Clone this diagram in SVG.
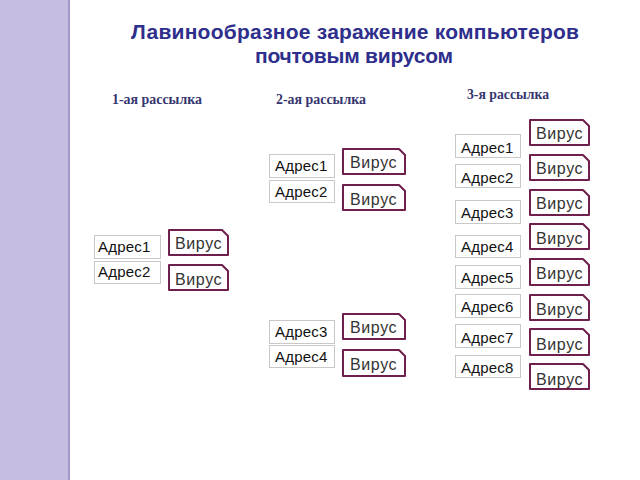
<svg xmlns="http://www.w3.org/2000/svg" width="640" height="480" viewBox="0 0 640 480">
<style>
.addr rect{fill:#fff;stroke:#c8c8c8;stroke-width:1}
.addr text{font-family:"Liberation Sans",Arial,sans-serif;font-size:15px;letter-spacing:0.2px;fill:#111}
.vir path{fill:#fff;stroke:#6e1f4b;stroke-width:2;stroke-linejoin:round}
.vir text{font-family:"Liberation Sans",Arial,sans-serif;font-size:16px;letter-spacing:0.6px;fill:#333}
.title{font-family:"Liberation Sans",Arial,sans-serif;font-size:21px;font-weight:bold;fill:#2e2e8c;text-anchor:middle}
.sub{font-family:"Liberation Serif","Times New Roman",serif;font-size:15px;font-weight:bold;fill:#36366f}
</style>
<rect x="0" y="0" width="640" height="480" fill="#fff"/>
<rect x="0" y="0" width="70" height="480" fill="#c7bde0"/>
<rect x="68" y="0" width="2" height="480" fill="#a698c8"/>
<g id="title">
<text class="title" x="355" y="39" textLength="448" lengthAdjust="spacing">Лавинообразное заражение компьютеров</text>
<text class="title" x="354" y="63" textLength="198" lengthAdjust="spacing">почтовым вирусом</text>
</g>
<g id="headers">
<text class="sub" x="112" y="104" textLength="90" lengthAdjust="spacingAndGlyphs">1-ая рассылка</text>
<text class="sub" x="276" y="104" textLength="90" lengthAdjust="spacingAndGlyphs">2-ая рассылка</text>
<text class="sub" x="467" y="99" textLength="82" lengthAdjust="spacingAndGlyphs">3-я рассылка</text>
</g>
<g id="connectors"></g>
<!-- level 1 -->
<g id="l1-a1" class="addr"><rect x="94.5" y="235.5" width="66" height="23"/><text x="98" y="252">Адрес1</text></g>
<g id="l1-a2" class="addr"><rect x="94.5" y="261.5" width="66" height="22"/><text x="98" y="277">Адрес2</text></g>
<g id="l1-v1" class="vir"><path d="M169,230 H222 L228,236 V255 H169 Z"/><text x="175" y="249">Вирус</text></g>
<g id="l1-v2" class="vir"><path d="M169,265 H222 L228,271 V290 H169 Z"/><text x="175" y="285">Вирус</text></g>
<!-- level 2 -->
<g id="l2-a1" class="addr"><rect x="269.5" y="154.5" width="65" height="23"/><text x="275" y="171">Адрес1</text></g>
<g id="l2-a2" class="addr"><rect x="269.5" y="180.5" width="65" height="22"/><text x="275" y="197">Адрес2</text></g>
<g id="l2-a3" class="addr"><rect x="269.5" y="320.5" width="65" height="23"/><text x="275" y="337">Адрес3</text></g>
<g id="l2-a4" class="addr"><rect x="269.5" y="345.5" width="65" height="22"/><text x="275" y="362">Адрес4</text></g>
<g id="l2-v1" class="vir"><path d="M343,149 H399 L405,155 V174 H343 Z"/><text x="350" y="168">Вирус</text></g>
<g id="l2-v2" class="vir"><path d="M343,185 H399 L405,191 V210 H343 Z"/><text x="350" y="205">Вирус</text></g>
<g id="l2-v3" class="vir"><path d="M343,314 H399 L405,320 V339 H343 Z"/><text x="350" y="333">Вирус</text></g>
<g id="l2-v4" class="vir"><path d="M343,350 H399 L405,356 V376 H343 Z"/><text x="350" y="370">Вирус</text></g>
<!-- level 3 -->
<g id="l3-a1" class="addr"><rect x="455.5" y="134.5" width="65" height="23"/><text x="461" y="153">Адрес1</text></g>
<g id="l3-a2" class="addr"><rect x="455.5" y="164.5" width="65" height="23"/><text x="461" y="183">Адрес2</text></g>
<g id="l3-a3" class="addr"><rect x="455.5" y="200.5" width="65" height="23"/><text x="461" y="218">Адрес3</text></g>
<g id="l3-a4" class="addr"><rect x="455.5" y="235.5" width="65" height="22"/><text x="461" y="252">Адрес4</text></g>
<g id="l3-a5" class="addr"><rect x="455.5" y="265.5" width="65" height="23"/><text x="461" y="283">Адрес5</text></g>
<g id="l3-a6" class="addr"><rect x="455.5" y="294.5" width="65" height="23"/><text x="461" y="312">Адрес6</text></g>
<g id="l3-a7" class="addr"><rect x="455.5" y="324.5" width="65" height="23"/><text x="461" y="343">Адрес7</text></g>
<g id="l3-a8" class="addr"><rect x="455.5" y="355.5" width="65" height="22"/><text x="461" y="373">Адрес8</text></g>
<g id="l3-v1" class="vir"><path d="M530,120 H583 L589,126 V145 H530 Z"/><text x="536" y="139">Вирус</text></g>
<g id="l3-v2" class="vir"><path d="M530,155 H583 L589,161 V180 H530 Z"/><text x="536" y="174">Вирус</text></g>
<g id="l3-v3" class="vir"><path d="M530,190 H583 L589,196 V215 H530 Z"/><text x="536" y="209">Вирус</text></g>
<g id="l3-v4" class="vir"><path d="M530,224 H583 L589,230 V249 H530 Z"/><text x="536" y="244">Вирус</text></g>
<g id="l3-v5" class="vir"><path d="M530,259 H583 L589,265 V285 H530 Z"/><text x="536" y="279">Вирус</text></g>
<g id="l3-v6" class="vir"><path d="M530,295 H583 L589,301 V320 H530 Z"/><text x="536" y="315">Вирус</text></g>
<g id="l3-v7" class="vir"><path d="M530,329 H583 L589,335 V355 H530 Z"/><text x="536" y="350">Вирус</text></g>
<g id="l3-v8" class="vir"><path d="M530,364 H583 L589,370 V389 H530 Z"/><text x="536" y="385">Вирус</text></g>
</svg>
